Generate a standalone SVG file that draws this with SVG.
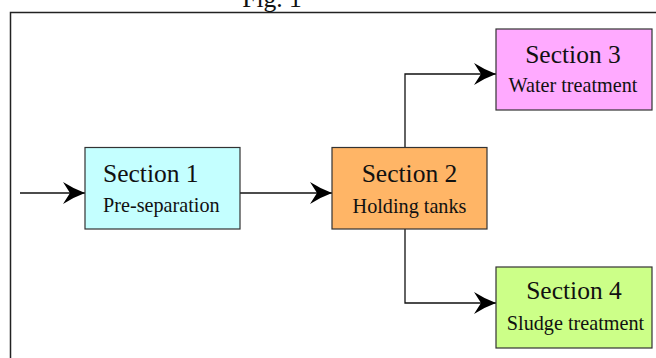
<svg xmlns="http://www.w3.org/2000/svg" width="656" height="358" viewBox="0 0 656 358">
<defs>
<style>
.box{stroke:#333;stroke-width:1.2}
.t1{font-family:"Liberation Serif","Times New Roman",serif;font-size:25.5px;fill:#111}
.t2{font-family:"Liberation Serif","Times New Roman",serif;font-size:20.2px;fill:#111}
.ln{fill:none;stroke:#111;stroke-width:1.3}
</style>
<marker id="ah" markerUnits="userSpaceOnUse" markerWidth="26" markerHeight="26" viewBox="-24 -13 26 26" refX="0" refY="0" orient="auto">
<path d="M0,0 Q-11,-4 -22,-11 L-15,0 L-22,11 Q-11,4 0,0 Z" fill="#000"/>
</marker>
</defs>
<rect width="656" height="358" fill="#fff"/>
<text x="272" y="7" text-anchor="middle" class="t1" font-size="22">Fig. 1</text>
<rect x="10.5" y="12.5" width="660" height="360" fill="none" stroke="#222" stroke-width="1.5"/>
<g id="connectors">
<line class="ln" x1="20" y1="193" x2="85" y2="193" marker-end="url(#ah)"/>
<line class="ln" x1="240" y1="193" x2="332" y2="193" marker-end="url(#ah)"/>
<polyline class="ln" points="405,148 405,74 496,74" marker-end="url(#ah)"/>
<polyline class="ln" points="405,229 405,303 496,303" marker-end="url(#ah)"/>
</g>
<g id="section1">
<rect class="box" x="85" y="147.5" width="155" height="81.5" fill="#C4FFFF"/>
<text class="t1" x="103" y="182">Section 1</text>
<text class="t2" x="103" y="212">Pre-separation</text>
</g>
<g id="section2">
<rect class="box" x="332" y="147.5" width="155" height="81.5" fill="#FFB566"/>
<text class="t1" x="409.5" y="182" text-anchor="middle">Section 2</text>
<text class="t2" x="409.5" y="213" text-anchor="middle">Holding tanks</text>
</g>
<g id="section3">
<rect class="box" x="496" y="29" width="156" height="81" fill="#FFAAFF"/>
<text class="t1" x="573" y="63" text-anchor="middle">Section 3</text>
<text class="t2" x="573" y="92" text-anchor="middle">Water treatment</text>
</g>
<g id="section4">
<rect class="box" x="496" y="267" width="156" height="81" fill="#CCFF88"/>
<text class="t1" x="574" y="299" text-anchor="middle">Section 4</text>
<text class="t2" x="575.5" y="330" text-anchor="middle">Sludge treatment</text>
</g>
</svg>
